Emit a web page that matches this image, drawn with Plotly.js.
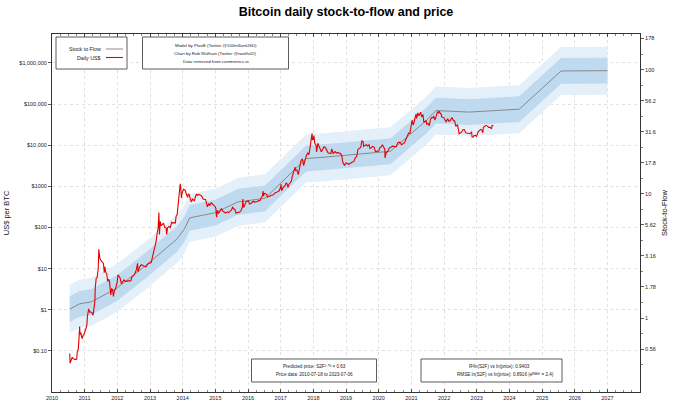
<!DOCTYPE html>
<html><head><meta charset="utf-8">
<script src="https://cdn.plot.ly/plotly-3.0.1.min.js"></script>
<style>html,body{margin:0;padding:0;background:#fff}#chart{width:680px;height:408px}</style>
</head><body><div id="chart"></div>
<script>
const s2fDates = ["2010-07-18","2010-11-05","2011-03-20","2012-01-01","2012-11-28","2013-10-25","2014-01-20","2014-03-20","2015-01-01","2015-09-10","2016-07-09","2017-10-10","2018-06-01","2019-06-01","2020-05-11","2021-06-15","2021-10-01","2022-10-10","2024-04-20","2025-08-01","2027-01-01"];
const s2fValues = [1.18,1.30,1.35,1.75,2.7,4.3,5.2,6.4,7.05,8.6,9.2,19.2,19.8,20.8,22.0,38.8,46.8,45.5,48,97.5,98];
// band half-widths (multiplicative, on S2F scale)
const innerBand = 1.27;
const outerBand = 1.56;

// ---- Daily price (US$ per BTC) ----
const priceDates = [
"2010-07-18","2010-07-22","2010-07-28","2010-08-05","2010-08-15","2010-08-25","2010-09-05","2010-09-15","2010-09-25","2010-10-05","2010-10-10","2010-10-20","2010-10-28","2010-11-06","2010-11-10","2010-11-20","2010-11-28","2010-12-05","2010-12-15","2010-12-25",
"2011-01-05","2011-01-15","2011-01-25","2011-02-01","2011-02-10","2011-02-15","2011-02-25","2011-03-05","2011-03-15","2011-03-25","2011-04-05","2011-04-15","2011-04-25","2011-04-30","2011-05-10","2011-05-20","2011-05-30","2011-06-02","2011-06-08","2011-06-12","2011-06-20","2011-06-30","2011-07-10","2011-07-20","2011-07-30","2011-08-08","2011-08-15","2011-08-25","2011-09-05","2011-09-15","2011-09-25","2011-10-05","2011-10-20","2011-10-30","2011-11-10","2011-11-18","2011-11-30","2011-12-10","2011-12-20","2011-12-31",
"2012-01-08","2012-01-20","2012-02-01","2012-02-15","2012-02-28","2012-03-15","2012-03-31","2012-04-15","2012-04-30","2012-05-15","2012-05-31","2012-06-15","2012-06-30","2012-07-15","2012-07-31","2012-08-15","2012-08-19","2012-08-31","2012-09-15","2012-09-30","2012-10-15","2012-10-31","2012-11-15","2012-11-30","2012-12-15","2012-12-31",
"2013-01-15","2013-01-31","2013-02-15","2013-02-28","2013-03-10","2013-03-20","2013-03-31","2013-04-05","2013-04-10","2013-04-16","2013-04-25","2013-05-05","2013-05-15","2013-05-31","2013-06-15","2013-06-30","2013-07-06","2013-07-15","2013-07-31","2013-08-15","2013-08-31","2013-09-15","2013-09-30","2013-10-10","2013-10-20","2013-10-31","2013-11-10","2013-11-18","2013-11-30","2013-12-04","2013-12-10","2013-12-18","2013-12-25","2013-12-31",
"2014-01-10","2014-01-20","2014-01-31","2014-02-10","2014-02-25","2014-03-05","2014-03-15","2014-03-31","2014-04-10","2014-04-20","2014-04-30","2014-05-10","2014-05-25","2014-06-05","2014-06-15","2014-06-30","2014-07-15","2014-07-31","2014-08-18","2014-08-31","2014-09-15","2014-09-22","2014-10-05","2014-10-20","2014-10-31","2014-11-15","2014-11-30","2014-12-15","2014-12-31",
"2015-01-07","2015-01-14","2015-01-25","2015-02-05","2015-02-20","2015-03-10","2015-03-25","2015-04-10","2015-04-25","2015-05-15","2015-05-31","2015-06-15","2015-06-30","2015-07-12","2015-07-25","2015-08-10","2015-08-19","2015-08-31","2015-09-15","2015-09-30","2015-10-15","2015-10-31","2015-11-04","2015-11-11","2015-11-20","2015-11-30","2015-12-10","2015-12-20","2015-12-31",
"2016-01-10","2016-01-15","2016-01-31","2016-02-15","2016-02-28","2016-03-15","2016-03-31","2016-04-15","2016-04-30","2016-05-15","2016-05-28","2016-06-10","2016-06-17","2016-06-23","2016-06-30","2016-07-15","2016-07-31","2016-08-02","2016-08-15","2016-08-31","2016-09-15","2016-09-30","2016-10-15","2016-10-31","2016-11-15","2016-11-30","2016-12-15","2016-12-31",
"2017-01-04","2017-01-11","2017-01-20","2017-01-31","2017-02-15","2017-02-28","2017-03-10","2017-03-24","2017-03-31","2017-04-15","2017-04-30","2017-05-10","2017-05-25","2017-05-31","2017-06-11","2017-06-15","2017-06-30","2017-07-16","2017-07-31","2017-08-15","2017-08-31","2017-09-14","2017-09-30","2017-10-15","2017-10-31","2017-11-12","2017-11-28","2017-12-07","2017-12-17","2017-12-22","2017-12-31",
"2018-01-06","2018-01-17","2018-01-31","2018-02-06","2018-02-20","2018-02-28","2018-03-15","2018-03-31","2018-04-15","2018-04-30","2018-05-15","2018-05-31","2018-06-15","2018-06-30","2018-07-15","2018-07-25","2018-08-10","2018-08-31","2018-09-15","2018-09-30","2018-10-15","2018-10-31","2018-11-15","2018-11-25","2018-12-15","2018-12-31",
"2019-01-15","2019-01-31","2019-02-15","2019-02-28","2019-03-15","2019-03-31","2019-04-15","2019-04-30","2019-05-15","2019-05-31","2019-06-15","2019-06-26","2019-07-10","2019-07-17","2019-07-31","2019-08-15","2019-08-31","2019-09-15","2019-09-25","2019-10-10","2019-10-25","2019-11-10","2019-11-25","2019-12-15","2019-12-31",
"2020-01-15","2020-01-31","2020-02-12","2020-02-28","2020-03-10","2020-03-12","2020-03-25","2020-04-10","2020-04-30","2020-05-10","2020-05-31","2020-06-15","2020-06-30","2020-07-15","2020-07-31","2020-08-15","2020-08-31","2020-09-10","2020-09-30","2020-10-15","2020-10-31","2020-11-15","2020-11-30","2020-12-15","2020-12-31",
"2021-01-08","2021-01-22","2021-02-08","2021-02-21","2021-02-28","2021-03-13","2021-03-25","2021-04-14","2021-04-25","2021-05-10","2021-05-19","2021-05-31","2021-06-15","2021-06-22","2021-07-05","2021-07-20","2021-07-31","2021-08-15","2021-08-31","2021-09-06","2021-09-21","2021-10-05","2021-10-20","2021-10-31","2021-11-10","2021-11-20","2021-11-30","2021-12-05","2021-12-15","2021-12-31",
"2022-01-10","2022-01-24","2022-02-10","2022-02-24","2022-03-10","2022-03-29","2022-04-15","2022-04-30","2022-05-12","2022-05-31","2022-06-13","2022-06-18","2022-06-30","2022-07-15","2022-07-30","2022-08-15","2022-08-31","2022-09-15","2022-09-30","2022-10-15","2022-10-31","2022-11-05","2022-11-09","2022-11-21","2022-11-30","2022-12-15","2022-12-31",
"2023-01-15","2023-01-31","2023-02-15","2023-02-28","2023-03-10","2023-03-17","2023-03-31","2023-04-14","2023-04-30","2023-05-15","2023-05-31","2023-06-15","2023-06-23","2023-06-30","2023-07-06"];
const priceValues = [
0.086,0.05,0.055,0.061,0.07,0.065,0.062,0.062,0.062,0.063,0.095,0.105,0.17,0.39,0.25,0.28,0.22,0.20,0.24,0.25,
0.30,0.39,0.41,0.69,0.99,1.05,0.88,0.89,0.86,0.84,0.73,1.0,1.6,3.5,5.8,6.0,8.7,10,29.6,18,17.5,16.1,14.8,13.8,13.4,8.0,11.0,8.2,7.5,4.9,5.5,5.0,2.3,3.3,3.0,2.1,3.0,3.1,3.9,4.7,
7.1,6.3,5.9,4.3,4.9,5.3,4.9,4.9,5.0,5.0,5.1,6.5,6.7,7.5,9.3,13.5,8.4,10.1,11.8,12.4,11.7,11.2,11.0,12.6,13.5,13.5,
14.3,20.4,27,33,46,70,93,142,230,68,140,112,115,129,100,97,68,98,106,99,135,127,133,126,190,204,330,700,1130,1150,960,520,680,750,
850,830,800,650,540,660,630,450,420,500,450,440,575,650,600,640,620,585,490,480,475,400,320,385,340,400,375,350,320,
290,178,260,220,245,290,250,236,225,240,230,250,263,310,290,265,225,230,230,237,255,315,490,310,325,378,420,440,430,
448,375,378,400,435,415,416,430,450,455,530,580,765,580,675,665,625,545,570,575,610,608,640,700,715,745,780,965,
1130,780,895,970,1010,1190,1190,940,1080,1180,1350,1750,2400,2300,2950,2450,2500,1930,2870,4150,4700,3200,4350,5700,6450,5900,9900,16000,19500,13800,14000,
17200,11000,10200,6900,11200,10300,8200,6900,8000,9200,8700,7500,6500,6400,6300,8200,6300,7000,6500,6600,6500,6300,5600,3900,3200,3700,
3600,3450,3600,3800,3900,4100,5000,5300,8000,8500,8800,13000,12300,9400,10100,10300,9600,10300,8400,8600,9400,9000,7100,7100,7200,
8800,9300,10300,8600,7900,4900,6700,6900,8700,8700,9500,9400,9100,9200,11300,11900,11700,10300,10800,11500,13800,16000,19700,19400,29000,
40500,30800,46000,57000,45200,61000,52000,63500,49000,56000,37000,37000,40000,32500,34000,29800,41500,47000,47000,52000,40700,51000,66000,61300,67500,59000,57000,49000,48500,46300,
41800,36500,44000,38300,39400,47400,40500,38500,28900,31800,22500,19000,19800,20800,23800,24100,20000,19700,19400,19100,20500,21300,15900,15800,17100,17400,16500,
20900,23100,24300,23100,20200,27400,28500,30500,29200,27200,27200,25100,30500,30500,30000];

// ---- Axis tick labels ----
const yearTicks = ["2010","2011","2012","2013","2014","2015","2016","2017","2018","2019","2020","2021","2022","2023","2024","2025","2026","2027"];
const priceTickVals = [0.1,1,10,100,1000,10000,100000,1000000];
const priceTickText = ["$0.10","$1","$10","$100","$1000","$10,000","$100,000","$1,000,000"];
const s2fTickVals = [0.5623,1,1.778,3.162,5.623,10,17.78,31.62,56.23,100,177.8];
const s2fTickText = ["0.56","1","1.78","3.16","5.62","10","17.8","31.6","56.2","100","178"];

const FONT = "Liberation Sans, Arial, Helvetica, sans-serif";
const outerLo = s2fValues.map(v => v / outerBand), outerHi = s2fValues.map(v => v * outerBand);
const innerLo = s2fValues.map(v => v / innerBand), innerHi = s2fValues.map(v => v * innerBand);

const traces = [
  {x: s2fDates, y: outerLo, yaxis: 'y', mode: 'lines', line: {width: 0, color: 'rgba(0,0,0,0)'}, hoverinfo: 'skip', showlegend: false},
  {x: s2fDates, y: outerHi, yaxis: 'y', mode: 'lines', fill: 'tonexty', fillcolor: '#e3eff9', line: {width: 0, color: 'rgba(0,0,0,0)'}, hoverinfo: 'skip', showlegend: false},
  {x: s2fDates, y: innerLo, yaxis: 'y', mode: 'lines', line: {width: 0, color: 'rgba(0,0,0,0)'}, hoverinfo: 'skip', showlegend: false},
  {x: s2fDates, y: innerHi, yaxis: 'y', mode: 'lines', fill: 'tonexty', fillcolor: '#bfd9ee', line: {width: 0, color: 'rgba(0,0,0,0)'}, hoverinfo: 'skip', showlegend: false},
  {x: s2fDates, y: s2fValues, yaxis: 'y', mode: 'lines', name: 'Stock to Flow', line: {width: 0.9, color: '#808080'}, showlegend: false},
  {x: priceDates, y: priceValues, yaxis: 'y2', mode: 'lines', name: 'Daily US$', line: {width: 1.1, color: '#e60000'}, showlegend: false}
];

const PY0 = -2, PY1 = 6.705;           // log10 price range
const A = Math.log10(0.63), B = 3.02;   // axis alignment for S2F scale
const SY0 = (PY0 - A) / B, SY1 = (PY1 - A) / B;

function px(x) { return (x - 52) / 588; }
function py(y) { return (392 - y) / 358; }
const boxLine = {color: '#333', width: 0.8};
const shapes = [
  {type: 'rect', xref: 'paper', yref: 'paper', x0: px(56), x1: px(127), y0: py(69), y1: py(37), line: boxLine, fillcolor: '#fff'},
  {type: 'line', xref: 'paper', yref: 'paper', x0: px(106), x1: px(123), y0: py(49), y1: py(49), line: {color: '#808080', width: 0.9}},
  {type: 'line', xref: 'paper', yref: 'paper', x0: px(106), x1: px(123), y0: py(57.5), y1: py(57.5), line: {color: '#e60000', width: 1.1}},
  {type: 'rect', xref: 'paper', yref: 'paper', x0: px(142.5), x1: px(288.5), y0: py(69), y1: py(37), line: boxLine, fillcolor: '#fff'},
  {type: 'rect', xref: 'paper', yref: 'paper', x0: px(251.5), x1: px(376.5), y0: py(382), y1: py(359), line: boxLine, fillcolor: '#fff'},
  {type: 'rect', xref: 'paper', yref: 'paper', x0: px(421), x1: px(562), y0: py(382), y1: py(359), line: boxLine, fillcolor: '#fff'}
];
function ann(text, x, y, size, xanchor) {
  return {text: text, xref: 'paper', yref: 'paper', x: px(x), y: py(y), xanchor: xanchor || 'center', yanchor: 'middle', showarrow: false, font: {family: FONT, size: size, color: '#222'}};
}
const annotations = [
  ann('Stock to Flow', 103, 49, 5.3, 'right'),
  ann('Daily US$', 103, 57.5, 5.3, 'right'),
  ann('Model by PlanB (Twitter @100trillionUSD)', 215.5, 46, 4.4),
  ann('Chart by Rob Wolfson (Twitter @rwolfs02)', 215.5, 53.5, 4.4),
  ann('Data retrieved from coinmetrics.io', 215.5, 61, 4.4),
  ann('Predicted price: S2F³·⁰² × 0.63', 314, 366.5, 4.6),
  ann('Price data: 2010-07-18 to 2023-07-06', 314, 374.5, 4.6),
  ann('R²ln(S2F) vs ln(price): 0.9403', 499, 366.5, 4.6),
  ann('RMSE ln(S2F) vs ln(price): 0.8916 (eᴿᴹˢᴱ = 2.4)', 505, 374.5, 4.6)
];

const s2fMinor = [];
for (let k = -3; k < 10; k++) s2fMinor.push(Math.pow(10, (k + 0.5) / 4));

const layout = {
  width: 680, height: 408,
  margin: {l: 52, r: 40, t: 34, b: 16},
  paper_bgcolor: '#fff', plot_bgcolor: '#fff',
  font: {family: FONT, size: 6, color: '#222'},
  title: {text: '<b>Bitcoin daily stock-to-flow and price</b>', font: {family: FONT, size: 12.5, color: '#000'}, x: 0.5, xref: 'paper', xanchor: 'center', y: 1 - 12 / 408, yref: 'container', yanchor: 'middle'},
  xaxis: {
    type: 'date', range: ['2010-01-01', '2027-12-31'],
    tickvals: yearTicks.map(y => y + '-01-01'), ticktext: yearTicks,
    ticks: 'inside', ticklen: 3, tickwidth: 0.8, tickcolor: '#333',
    minor: {dtick: 'M3', ticks: 'inside', ticklen: 1.8, tickwidth: 0.6, tickcolor: '#333', showgrid: false},
    showline: true, linecolor: '#333', linewidth: 1, mirror: 'ticks',
    showgrid: true, gridcolor: '#d4d4d4', griddash: 'dot', gridwidth: 0.7,
    tickfont: {family: FONT, size: 5.5, color: '#222'}, zeroline: false
  },
  yaxis: {
    type: 'log', side: 'right', range: [SY0, SY1],
    tickmode: 'array', tickvals: s2fTickVals, ticktext: s2fTickText,
    ticks: 'outside', ticklen: 3, tickwidth: 0.8, tickcolor: '#333',
    minor: {tickmode: 'array', tickvals: s2fMinor, ticks: 'outside', ticklen: 2, tickwidth: 0.6, tickcolor: '#333', showgrid: false},
    showline: true, linecolor: '#333', linewidth: 1,
    showgrid: false, zeroline: false,
    tickfont: {family: FONT, size: 5.5, color: '#222'},
    title: {text: 'Stock-to-Flow', font: {family: FONT, size: 7.5, color: '#111'}, standoff: 6}
  },
  yaxis2: {
    type: 'log', side: 'left', overlaying: 'y', range: [PY0, PY1],
    tickmode: 'array', tickvals: priceTickVals, ticktext: priceTickText,
    ticks: 'outside', ticklen: 3, tickwidth: 0.8, tickcolor: '#333',
    showline: true, linecolor: '#333', linewidth: 1,
    showgrid: true, gridcolor: '#d4d4d4', griddash: 'dot', gridwidth: 0.7, zeroline: false,
    tickfont: {family: FONT, size: 5.5, color: '#222'},
    title: {text: 'US$ per BTC', font: {family: FONT, size: 7.5, color: '#111'}, standoff: 8}
  },
  shapes: shapes, annotations: annotations, showlegend: false
};
Plotly.newPlot('chart', traces, layout, {displayModeBar: false, staticPlot: true});
</script></body></html>
